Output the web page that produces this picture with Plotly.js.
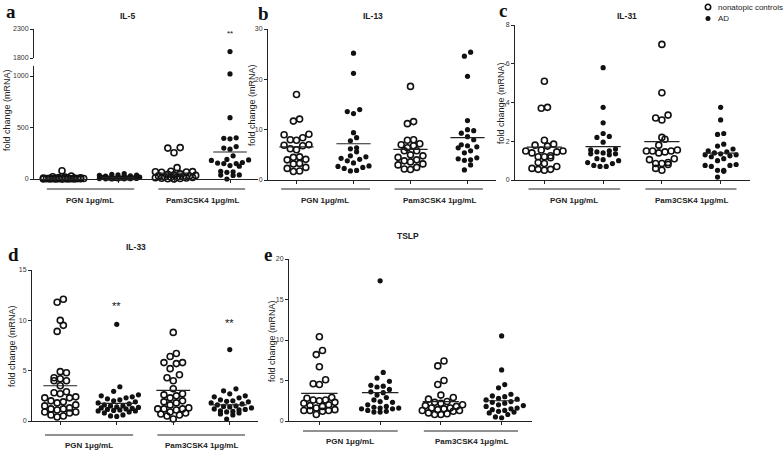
<!DOCTYPE html>
<html><head><meta charset="utf-8">
<script src="https://cdn.plot.ly/plotly-3.0.1.min.js"></script>
<style>html,body{margin:0;padding:0;background:#fff}#chart{width:784px;height:454px}</style>
</head><body><div id="chart"></div>
<script>
// ---------- DATA ----------
const groupLabels = ["PGN 1μg/mL", "Pam3CSK4 1μg/mL"];
const seriesNames = ["nonatopic controls", "AD"];
const panelTitles = ["IL-5", "IL-13", "IL-31", "IL-33", "TSLP"];
const panelLetters = ["a", "b", "c", "d", "e"];

// IL-5 (columns: PGN controls, PGN AD, Pam3CSK4 controls, Pam3CSK4 AD)
const il5_pgn_ctrl = [80, 28, 22, 18, 15, 12, 10, 9, 8, 7, 6, 5, 5, 4, 4, 3, 3, 2, 2, 2, 1, 1, 1, 0.5, 0.5, 0.2];
const il5_pgn_ad   = [52, 45, 40, 38, 35, 30, 28, 25, 22, 20, 18, 15, 12, 10, 9, 8, 6, 5, 4, 3, 2, 2, 1, 1];
const il5_pam_ctrl = [305, 300, 255, 110, 75, 72, 70, 68, 65, 50, 45, 40, 35, 30, 28, 25, 22, 20, 18, 15, 12, 10, 8, 5, 3, 1];
const il5_pam_ad   = [1910, 1020, 595, 400, 395, 390, 315, 300, 290, 225, 190, 185, 180, 160, 155, 150, 150, 130, 125, 75, 70, 65, 40, 38, 35, 0];
const il5_lines    = [8, 14, 58, 262];

// IL-13
const il13_pgn_ctrl = [17.0, 12.1, 11.7, 9.1, 9.0, 8.4, 8.0, 7.9, 7.0, 6.9, 6.8, 6.2, 6.0, 4.6, 4.5, 4.1, 4.0, 3.3, 3.2, 2.5, 2.3, 1.8, 1.7];
const il13_pgn_ad   = [25.2, 21.2, 14.0, 13.6, 13.2, 9.4, 8.4, 7.8, 6.4, 6.2, 5.6, 4.8, 4.6, 4.3, 4.1, 3.8, 3.4, 2.8, 2.7, 2.5, 2.3, 1.9, 1.8];
const il13_pam_ctrl = [18.6, 11.6, 11.2, 8.0, 7.9, 7.2, 7.0, 6.8, 6.4, 5.8, 5.8, 5.0, 4.8, 4.5, 4.0, 3.8, 3.6, 3.2, 3.0, 2.5, 2.2, 2.1];
const il13_pam_ad   = [25.4, 24.6, 20.6, 11.8, 10.0, 9.8, 9.3, 8.6, 8.0, 7.0, 6.8, 6.6, 6.4, 5.8, 5.4, 4.4, 4.2, 4.0, 3.9, 3.0, 2.0];
const il13_lines    = [6.6, 7.2, 6.1, 8.4];

// IL-31
const il31_pgn_ctrl = [5.1, 3.75, 3.7, 2.05, 1.85, 1.8, 1.75, 1.55, 1.5, 1.5, 1.45, 1.4, 1.25, 1.2, 1.2, 1.15, 0.9, 0.85, 0.7, 0.6, 0.55, 0.55, 0.5];
const il31_pgn_ad   = [5.8, 3.75, 2.95, 2.4, 2.25, 2.2, 1.95, 1.6, 1.55, 1.5, 1.45, 1.4, 1.35, 1.35, 1.3, 1.1, 1.05, 1.0, 0.9, 0.85, 0.75, 0.7, 0.7];
const il31_pam_ctrl = [7.0, 4.5, 3.35, 3.2, 3.1, 2.2, 2.1, 1.8, 1.55, 1.5, 1.5, 1.5, 1.45, 1.4, 1.1, 1.05, 0.9, 0.85, 0.85, 0.8, 0.6, 0.5];
const il31_pam_ad   = [3.75, 3.1, 2.4, 2.35, 1.85, 1.75, 1.6, 1.5, 1.45, 1.4, 1.35, 1.3, 1.3, 1.25, 1.2, 1.1, 1.0, 0.8, 0.75, 0.75, 0.7, 0.5, 0.5, 0.45, 0.15];
const il31_lines    = [1.7, 1.72, 1.98, 1.39];

// IL-33
const il33_pgn_ctrl = [12.1, 11.8, 10.0, 9.5, 8.9, 4.9, 4.8, 4.3, 4.2, 4.0, 4.0, 3.5, 2.9, 2.8, 2.7, 2.4, 2.3, 2.3, 2.0, 1.9, 1.8, 1.6, 1.5, 1.3, 1.2, 1.2, 1.1, 0.9, 0.9, 0.8, 0.6, 0.5, 0.4];
const il33_pgn_ad   = [9.6, 3.4, 2.95, 2.6, 2.5, 2.4, 2.3, 2.2, 2.1, 2.0, 1.9, 1.8, 1.7, 1.6, 1.5, 1.5, 1.4, 1.35, 1.3, 1.25, 1.2, 1.15, 1.1, 1.05, 1.0, 1.0, 0.9, 0.8, 0.6, 0.5, 0.45];
const il33_pam_ctrl = [8.8, 6.7, 6.4, 5.8, 5.8, 5.7, 5.2, 4.6, 4.3, 4.0, 3.2, 2.7, 2.6, 2.5, 2.3, 2.0, 1.9, 1.8, 1.6, 1.3, 1.2, 1.2, 1.2, 1.1, 0.9, 0.8, 0.7, 0.6, 0.5, 0.2];
const il33_pam_ad   = [7.1, 3.2, 3.0, 2.7, 2.5, 2.4, 2.3, 2.1, 2.0, 1.95, 1.9, 1.8, 1.7, 1.6, 1.5, 1.45, 1.4, 1.3, 1.2, 1.15, 1.1, 1.0, 0.95, 0.9, 0.8, 0.7, 0.6, 0.2];
const il33_lines    = [3.5, 1.75, 3.05, 1.6];

// TSLP
const tslp_pgn_ctrl = [10.4, 8.7, 8.2, 6.7, 5.1, 4.6, 4.5, 2.9, 2.8, 2.6, 2.6, 2.5, 2.3, 2.2, 2.0, 1.9, 1.8, 1.6, 1.4, 1.3, 1.3, 1.3, 1.2, 0.8];
const tslp_pgn_ad   = [17.3, 6.0, 5.3, 4.9, 4.4, 4.3, 4.2, 3.9, 3.6, 3.5, 3.2, 2.9, 2.6, 2.4, 2.3, 2.0, 1.8, 1.7, 1.6, 1.6, 1.5, 1.5, 1.3, 1.2, 1.1, 1.1];
const tslp_pam_ctrl = [7.4, 6.8, 5.0, 4.5, 3.2, 2.9, 2.7, 2.4, 2.3, 2.2, 2.0, 1.9, 1.8, 1.6, 1.6, 1.5, 1.4, 1.3, 1.3, 1.2, 1.0, 0.9, 0.8, 0.8];
const tslp_pam_ad   = [10.5, 6.3, 4.5, 4.1, 3.3, 3.1, 3.0, 2.8, 2.7, 2.6, 2.4, 2.3, 2.2, 2.0, 1.9, 1.8, 1.6, 1.5, 1.4, 1.3, 1.2, 1.1, 1.0, 0.8, 0.5, 0.4];
const tslp_lines    = [3.4, 3.5, 2.4, 2.5];

// significance marks: [column, y value]
const il5_stars  = [[3, 2214]];
const il33_stars = [[1, 11.4], [3, 9.7]];

const panelCols = [
  [il5_pgn_ctrl, il5_pgn_ad, il5_pam_ctrl, il5_pam_ad],
  [il13_pgn_ctrl, il13_pgn_ad, il13_pam_ctrl, il13_pam_ad],
  [il31_pgn_ctrl, il31_pgn_ad, il31_pam_ctrl, il31_pam_ad],
  [il33_pgn_ctrl, il33_pgn_ad, il33_pam_ctrl, il33_pam_ad],
  [tslp_pgn_ctrl, tslp_pgn_ad, tslp_pam_ctrl, tslp_pam_ad]
];
const panelLines = [il5_lines, il13_lines, il31_lines, il33_lines, tslp_lines];
const panelStars = [il5_stars, [], [], il33_stars, []];

// ---------- GEOMETRY (pixels) ----------
const W = 784, H = 454;
const FONT = '"Liberation Sans", Arial, sans-serif';
const INK = '#222';
const geom = [
  {x0:34, x1:258, bottom:179, top:65.7, range:[0,1100], tickvals:[0,500,1000],
   upper:{bottom:58, top:29, range:[1800,2300], tickvals:[1800,2300]},
   letter:[4,12], title:[128,16], ylab:[7,110], grpLine:189, grpText:200},
  {x0:268, x1:496, bottom:180, top:29, range:[0,30], tickvals:[0,10,20,30],
   letter:[256,13], title:[373,16], ylab:[252,105], grpLine:189, grpText:200},
  {x0:515, x1:750, bottom:180, top:25, range:[0,8], tickvals:[0,2,4,6,8],
   letter:[497,11], title:[627,16], ylab:[501,103], grpLine:189, grpText:200},
  {x0:32, x1:258, bottom:421, top:270, range:[0,15], tickvals:[0,5,10,15],
   letter:[6,254], title:[136,247], ylab:[12,346], grpLine:435, grpText:445},
  {x0:289, x1:532, bottom:421, top:259, range:[0,20], tickvals:[0,5,10,15,20],
   letter:[262,254], title:[408,236], ylab:[272,341], grpLine:431, grpText:441}
];
const legendPos = {x: 708, y0: 7, dy: 11.5};
const STEP = 6.2, MAXROW = 7;

function swarm(vals, pxY, step, maxRow) {
  const order = vals.map((v, i) => i).sort((a, b) => vals[a] - vals[b]);
  const off = new Array(vals.length).fill(0);
  let row = [], start = 0, nrow = 0;
  const flush = () => {
    const n = row.length;
    const shift = (nrow % 2 && n === maxRow) ? step / 2 : 0;
    const slots = [];
    for (let j = 0; j < n; j++) slots.push((j - (n - 1) / 2) * step + shift);
    slots.sort((a, b) => Math.abs(a) - Math.abs(b));
    row.forEach((id, j) => { off[id] = slots[j]; });
    row = []; nrow++;
  };
  order.forEach(i => {
    const y = vals[i] * pxY;
    if (row.length && (y - start >= step || row.length >= maxRow)) flush();
    if (!row.length) start = y;
    row.push(i);
  });
  if (row.length) flush();
  return off;
}

const traces = [], annotations = [], shapes = [];
const layout = {
  width: W, height: H, margin: {l:0, r:0, t:0, b:0},
  paper_bgcolor: '#fff', plot_bgcolor: 'rgba(0,0,0,0)',
  font: {family: FONT, color: INK, size: 8},
  showlegend: false
};
const yNames = ['y', 'y3', 'y4', 'y5', 'y6'];

function yAxisObj(dom, range, tickvals, anchor) {
  return {domain: dom, range: range, anchor: anchor, tickvals: tickvals,
    showline: true, linecolor: INK, linewidth: 1, ticks: 'outside', ticklen: 3,
    tickwidth: 1, tickcolor: INK, tickfont: {size: 7, family: FONT, color: '#333'},
    showgrid: false, zeroline: false, fixedrange: true};
}

const markerStyles = [
  {symbol: 'circle-open', size: 6, color: '#111', line: {width: 1.6}},
  {symbol: 'circle', size: 5.2, color: '#111'}
];

panelCols.forEach((cols, pi) => {
  const G = geom[pi];
  const xn = pi ? 'x' + (pi + 1) : 'x';
  const yn = yNames[pi];
  const xKey = pi ? 'xaxis' + (pi + 1) : 'xaxis';
  const yKey = yn === 'y' ? 'yaxis' : 'yaxis' + yn.slice(1);
  layout[xKey] = {domain: [G.x0 / W, G.x1 / W], range: [-0.5, 3.5], anchor: yn,
    showline: true, linecolor: INK, linewidth: 1, ticks: 'outside', ticklen: 3,
    tickwidth: 1, tickcolor: INK, tickvals: [0, 1, 2, 3], showticklabels: false,
    showgrid: false, zeroline: false, fixedrange: true};
  layout[yKey] = yAxisObj([1 - G.bottom / H, 1 - G.top / H], G.range, G.tickvals, xn);
  if (G.upper) {
    layout.yaxis2 = yAxisObj([1 - G.upper.bottom / H, 1 - G.upper.top / H], G.upper.range, G.upper.tickvals, xn);
  }
  const pxX = (G.x1 - G.x0) / 4;
  const pxY = (G.bottom - G.top) / (G.range[1] - G.range[0]);
  cols.forEach((vals, ci) => {
    const offs = swarm(vals, pxY, STEP, MAXROW);
    const marker = markerStyles[ci % 2];
    const lowX = [], lowY = [], upX = [], upY = [];
    vals.forEach((v, i) => {
      const xv = ci + offs[i] / pxX;
      if (G.upper && v > G.range[1]) { upX.push(xv); upY.push(v); }
      else { lowX.push(xv); lowY.push(v); }
    });
    traces.push({type: 'scatter', mode: 'markers', x: lowX, y: lowY, xaxis: xn, yaxis: yn,
      marker: marker, cliponaxis: false, hoverinfo: 'skip', name: seriesNames[ci % 2]});
    if (upX.length) {
      traces.push({type: 'scatter', mode: 'markers', x: upX, y: upY, xaxis: xn, yaxis: 'y2',
        marker: marker, cliponaxis: false, hoverinfo: 'skip', name: seriesNames[ci % 2]});
    }
    const lv = panelLines[pi][ci];
    traces.push({type: 'scatter', mode: 'lines', x: [ci - 0.3, ci + 0.3], y: [lv, lv],
      xaxis: xn, yaxis: yn, line: {color: INK, width: 1.2}, hoverinfo: 'skip', cliponaxis: false});
  });
  [[-0.27, 1.29], [1.72, 3.27]].forEach((seg, gi) => {
    shapes.push({type: 'line', xref: xn, yref: 'paper', x0: seg[0], x1: seg[1],
      y0: 1 - G.grpLine / H, y1: 1 - G.grpLine / H, line: {color: INK, width: 1}});
    annotations.push({xref: xn, yref: 'paper', x: gi * 2 + 0.5, y: 1 - G.grpText / H,
      text: '<b>' + groupLabels[gi] + '</b>', showarrow: false, xanchor: 'center', yanchor: 'middle',
      font: {size: 8, family: FONT, color: INK}});
  });
  annotations.push({xref: 'paper', yref: 'paper', x: G.title[0] / W, y: 1 - G.title[1] / H,
    text: '<b>' + panelTitles[pi] + '</b>', showarrow: false, xanchor: 'center', yanchor: 'middle',
    font: {size: 8.5, family: FONT, color: INK}});
  annotations.push({xref: 'paper', yref: 'paper', x: G.letter[0] / W, y: 1 - G.letter[1] / H,
    text: '<b>' + panelLetters[pi] + '</b>', showarrow: false, xanchor: 'left', yanchor: 'middle',
    font: {size: 19, family: '"Liberation Serif", "Times New Roman", serif', color: '#111'}});
  annotations.push({xref: 'paper', yref: 'paper', x: G.ylab[0] / W, y: 1 - G.ylab[1] / H,
    text: 'fold change (mRNA)', textangle: -90, showarrow: false, xanchor: 'center', yanchor: 'middle',
    font: {size: 9, family: FONT, color: INK}});
  panelStars[pi].forEach(s => {
    annotations.push({xref: xn, yref: (G.upper && s[1] > G.range[1]) ? 'y2' : yn, x: s[0], y: s[1],
      text: '**', showarrow: false, xanchor: 'center', yanchor: 'middle',
      font: {size: pi === 0 ? 8 : 11, family: FONT, color: '#111'}});
  });
});

// legend (keys drawn as shapes, labels as text)
seriesNames.forEach((nm, si) => {
  const cy = legendPos.y0 + si * legendPos.dy;
  const r = si === 0 ? 2.7 : 2.5;
  shapes.push({type: 'circle', xref: 'paper', yref: 'paper',
    x0: (legendPos.x - r) / W, x1: (legendPos.x + r) / W,
    y0: 1 - (cy + r) / H, y1: 1 - (cy - r) / H,
    line: {color: '#111', width: si === 0 ? 1.6 : 0}, fillcolor: si === 0 ? '#fff' : '#111'});
  annotations.push({xref: 'paper', yref: 'paper', x: (legendPos.x + 8) / W, y: 1 - cy / H,
    text: nm, showarrow: false, xanchor: 'left', yanchor: 'middle',
    font: {size: 8, family: FONT, color: INK}});
});

layout.annotations = annotations;
layout.shapes = shapes;
Plotly.newPlot('chart', traces, layout, {staticPlot: true, displayModeBar: false});
</script>
</body></html>
